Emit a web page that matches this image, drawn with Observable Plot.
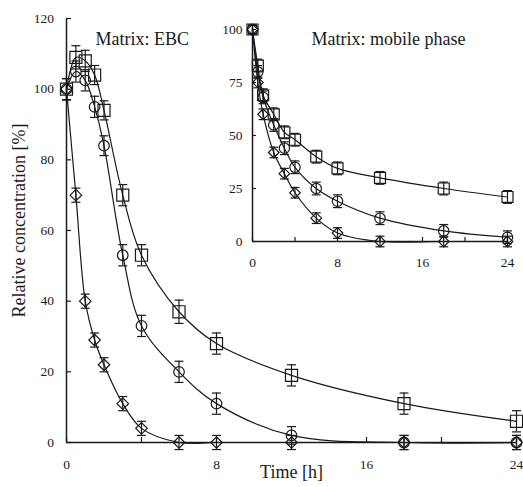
<!DOCTYPE html>
<html><head><meta charset="utf-8">
<script src="https://cdn.jsdelivr.net/npm/d3@7"></script>
<script src="https://cdn.jsdelivr.net/npm/@observablehq/plot@0.6"></script>
<style>
body{margin:0;background:#fff;}
#wrap{position:relative;width:523px;height:487px;font-family:'Liberation Serif',serif;}
#wrap svg{position:absolute;left:0;top:0;}
#wrap svg text{font-family:'Liberation Serif','DejaVu Serif',serif !important;}
</style></head><body><div id="wrap"></div>
<script>
// ---- Main panel: Matrix: EBC ----
const mainTitle = "Matrix: EBC";
const mainTimes = [0, 0.5, 1, 1.5, 2, 3, 4, 6, 8, 12, 18, 24];
const mainSquare = [100, 109, 108, 104, 94, 70, 53, 37, 28, 19, 11, 6];
const mainSquareErr = [3, 3.3, 3, 2.7, 2.7, 3, 3, 3.3, 3, 3, 3, 3];
const mainCircle = [100, 105, 102.5, 95, 84, 53, 33, 20, 11, 2, 0, 0];
const mainCircleErr = [3, 3, 3, 3, 2.8, 3, 3, 3, 3, 2.5, 2, 2];
const mainDiamond = [100, 70, 40, 29, 22, 11, 4, 0, 0, 0, 0, 0];
const mainDiamondErr = [3, 2, 2, 2, 2, 2, 2, 2, 2, 2, 2, 2];
const mainXTicks = [0, 4, 8, 12, 16, 20, 24];
const mainXLabels = [0, 8, 16, 24];
const mainYTicks = [0, 20, 40, 60, 80, 100, 120];

// ---- Inset panel: Matrix: mobile phase ----
const insetTitle = "Matrix: mobile phase";
const insetTimes = [0, 0.5, 1, 2, 3, 4, 6, 8, 12, 18, 24];
const insetSquare = [100, 83, 69, 60, 51.5, 48, 40, 34.5, 30, 25, 21];
const insetSquareErr = [2, 3, 3, 3, 3, 3, 3, 3, 3, 3, 3];
const insetCircle = [100, 80, 68, 55, 44, 35, 25, 19, 11, 5, 2];
const insetCircleErr = [2, 3, 3, 3, 3, 3, 3, 3, 3, 3, 3];
const insetDiamond = [100, 75, 60, 42, 32, 23, 11, 4, 0, 0, 0];
const insetDiamondErr = [2, 2.5, 2.5, 2.5, 2.5, 2.5, 2.5, 2.5, 2.5, 2.5, 2.5];
const insetXTicks = [0, 4, 8, 12, 16, 20, 24];
const insetXLabels = [0, 8, 16, 24];
const insetYTicks = [0, 25, 50, 75, 100];

const xTitle = "Time [h]";
const yTitle = "Relative concentration [%]";

const ink = "#1a1a1a";
const serif = "'Liberation Serif', 'DejaVu Serif', serif";

function rows(times, vals, errs) {
  return times.map((t, i) => ({t, v: vals[i], lo: vals[i] - errs[i], hi: vals[i] + errs[i]}));
}
const cap = {draw(ctx) { ctx.moveTo(-4.5, 0); ctx.lineTo(4.5, 0); }};

function seriesMarks(data, symbol, r) {
  const sw = 1.2;
  return [
    Plot.line(data, {x: "t", y: "v", curve: "catmull-rom", stroke: ink, strokeWidth: sw}),
    Plot.ruleX(data, {x: "t", y1: "lo", y2: "hi", stroke: ink, strokeWidth: sw}),
    Plot.dot(data, {x: "t", y: "lo", symbol: cap, fill: "none", stroke: ink, strokeWidth: sw}),
    Plot.dot(data, {x: "t", y: "hi", symbol: cap, fill: "none", stroke: ink, strokeWidth: sw}),
    Plot.dot(data, {x: "t", y: "v", symbol, r, fill: "none", stroke: ink, strokeWidth: sw})
  ];
}

const mainPlot = Plot.plot({
  width: 523, height: 487,
  marginLeft: 66, marginRight: 7, marginTop: 18, marginBottom: 45,
  x: {domain: [0, 24]},
  y: {domain: [0, 120]},
  style: {fontFamily: serif, fontSize: "13.5px", color: ink, background: "transparent"},
  marks: [
    Plot.ruleY([0], {stroke: ink, strokeWidth: 1.5}),
    Plot.ruleX([0], {stroke: ink, strokeWidth: 1.5}),
    Plot.tickX(mainXTicks, {x: d => d, insetTop: 424 - 5, stroke: ink, strokeWidth: 1.2}),
    Plot.tickY(mainYTicks, {y: d => d, insetRight: 450 - 5, stroke: ink, strokeWidth: 1.2}),
    Plot.axisX({ticks: mainXLabels, tickSize: 0, tickPadding: 17, label: null, tickFormat: d => String(d), fontFamily: serif, fontSize: 13.5, fontVariant: "normal"}),
    Plot.axisY({ticks: mainYTicks, tickSize: 0, tickPadding: 12.5, label: null, tickFormat: d => String(d), fontFamily: serif, fontSize: 13.5, fontVariant: "normal"}),
    ...seriesMarks(rows(mainTimes, mainSquare, mainSquareErr), "square", 6.8),
    ...seriesMarks(rows(mainTimes, mainCircle, mainCircleErr), "circle", 5.3),
    ...seriesMarks(rows(mainTimes, mainDiamond, mainDiamondErr), "diamond2", 5.2),
    Plot.text([mainTitle], {text: d => d, frameAnchor: "top-left", textAnchor: "start", dx: 29, dy: 14, fontSize: 18, fontFamily: serif}),
    Plot.text([xTitle], {text: d => d, frameAnchor: "bottom", textAnchor: "middle", dy: 35, fontSize: 18, fontFamily: serif}),
    Plot.text([yTitle], {text: d => d, frameAnchor: "left", textAnchor: "middle", rotate: -90, dx: -47, dy: -10, fontSize: 18, fontFamily: serif})
  ]
});

const insetPlot = Plot.plot({
  width: 295, height: 252,
  marginLeft: 30, marginRight: 10, marginTop: 10, marginBottom: 30,
  x: {domain: [0, 24]},
  y: {domain: [0, 100]},
  style: {fontFamily: serif, fontSize: "13.5px", color: ink, background: "transparent"},
  marks: [
    Plot.ruleY([0], {stroke: ink, strokeWidth: 1.5}),
    Plot.ruleX([0], {stroke: ink, strokeWidth: 1.5}),
    Plot.tickX(insetXTicks, {x: d => d, insetTop: 212 - 4, stroke: ink, strokeWidth: 1.2}),
    Plot.tickY(insetYTicks, {y: d => d, insetRight: 255 - 4, stroke: ink, strokeWidth: 1.2}),
    Plot.axisX({ticks: insetXLabels, tickSize: 0, tickPadding: 16, label: null, tickFormat: d => String(d), fontFamily: serif, fontSize: 13.5, fontVariant: "normal"}),
    Plot.axisY({ticks: insetYTicks, tickSize: 0, tickPadding: 10, label: null, tickFormat: d => String(d), fontFamily: serif, fontSize: 13.5, fontVariant: "normal"}),
    ...seriesMarks(rows(insetTimes, insetSquare, insetSquareErr), "square", 6.2),
    ...seriesMarks(rows(insetTimes, insetCircle, insetCircleErr), "circle", 5.2),
    ...seriesMarks(rows(insetTimes, insetDiamond, insetDiamondErr), "diamond2", 4.8),
    Plot.text([insetTitle], {text: d => d, frameAnchor: "top-left", textAnchor: "start", dx: 59, dy: 3, fontSize: 18, fontFamily: serif})
  ]
});

const wrap = document.getElementById("wrap");
wrap.appendChild(mainPlot);
insetPlot.style.left = "222px";
insetPlot.style.top = "19px";
wrap.appendChild(insetPlot);
</script>
</body></html>
